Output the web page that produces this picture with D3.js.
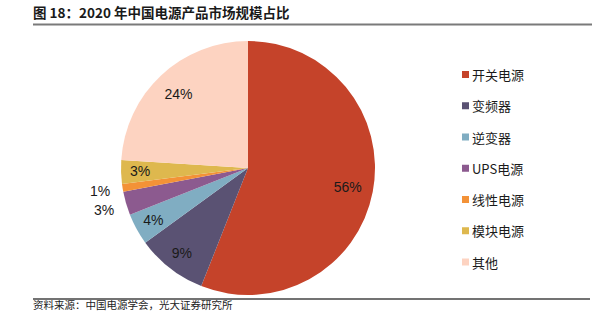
<!DOCTYPE html>
<html>
<head>
<meta charset="utf-8">
<script src="https://cdn.jsdelivr.net/npm/d3@7/dist/d3.min.js"></script>
<style>
  html, body { margin: 0; padding: 0; background: #fff; }
  svg { display: block; }
</style>
</head>
<body>
<svg id="chart" width="602" height="325"></svg>
<script>
// Market share of power-supply products in China, 2020
const categories = ["开关电源", "变频器", "逆变器", "UPS电源", "线性电源", "模块电源", "其他"];
const shares = [56, 9, 4, 3, 1, 3, 24];
const colors = ["#C5432A", "#5A5273", "#80ADC2", "#8C5A8F", "#F39237", "#DEB84E", "#FDD3C1"];
// slices too thin to hold their label inside
const outsideLabels = ["UPS电源", "线性电源"];

const titleText = "图 18：2020 年中国电源产品市场规模占比";
const sourceText = "资料来源：中国电源学会，光大证券研究所";

const svg = d3.select("#chart");
const cjk = "'Noto Sans CJK SC', 'Noto Sans', sans-serif";
const latin = "'Liberation Sans', Arial, sans-serif";

// title and rules
svg.append("text")
  .attr("x", 33).attr("y", 18)
  .attr("font-family", cjk).attr("font-size", 13.5).attr("font-weight", "bold")
  .attr("fill", "#1a1a1a")
  .text(titleText);
svg.append("line")
  .attr("x1", 33).attr("x2", 592).attr("y1", 24.5).attr("y2", 24.5)
  .attr("stroke", "#7a7a7a").attr("stroke-width", 2);
svg.append("line")
  .attr("x1", 33).attr("x2", 590).attr("y1", 299).attr("y2", 299)
  .attr("stroke", "#444").attr("stroke-width", 1.3);
svg.append("text")
  .attr("x", 33).attr("y", 309)
  .attr("font-family", cjk).attr("font-size", 10.5)
  .attr("fill", "#222")
  .text(sourceText);

// pie
const cx = 248, cy = 168, R = 127;
const data = categories.map((c, i) => ({ name: c, value: shares[i], color: colors[i] }));
const pie = d3.pie().value(d => d.value).sort(null);
const arcs = pie(data);
const arc = d3.arc().innerRadius(0).outerRadius(R);
const ringAt = r => d3.arc().innerRadius(r).outerRadius(r);
const inLabelSmall = ringAt(R * 0.85);
const inLabelLarge = ringAt(R * 0.8);
const outLabel = ringAt(R * 1.18);

function labelArc(d) {
  if (outsideLabels.includes(d.data.name)) return outLabel;
  return d.data.value > 20 ? inLabelLarge : inLabelSmall;
}

const g = svg.append("g").attr("transform", `translate(${cx},${cy})`);
g.selectAll("path.slice")
  .data(arcs)
  .join("path")
  .attr("class", "slice")
  .attr("d", arc)
  .attr("fill", d => d.data.color);

g.selectAll("text.lbl")
  .data(arcs)
  .join("text")
  .attr("class", "lbl")
  .attr("transform", d => {
    const p = labelArc(d).centroid(d);
    return `translate(${p[0]},${p[1]})`;
  })
  .attr("text-anchor", "middle")
  .attr("dominant-baseline", "central")
  .attr("font-family", latin).attr("font-size", 14)
  .attr("fill", "#1a1a1a")
  .text(d => d.data.value + "%");

// legend
const legendY = d3.scalePoint().domain(categories).range([74.5, 262]);
const lg = svg.append("g");
const items = lg.selectAll("g.item").data(data).join("g")
  .attr("class", "item")
  .attr("transform", d => `translate(462,${legendY(d.name)})`);
items.append("rect")
  .attr("x", 0).attr("y", -3.5).attr("width", 7).attr("height", 7)
  .attr("fill", d => d.color);
items.append("text")
  .attr("x", 10).attr("y", 0)
  .attr("dominant-baseline", "central")
  .attr("font-family", cjk).attr("font-size", 13)
  .attr("fill", "#1a1a1a")
  .text(d => d.name);
</script>
</body>
</html>
